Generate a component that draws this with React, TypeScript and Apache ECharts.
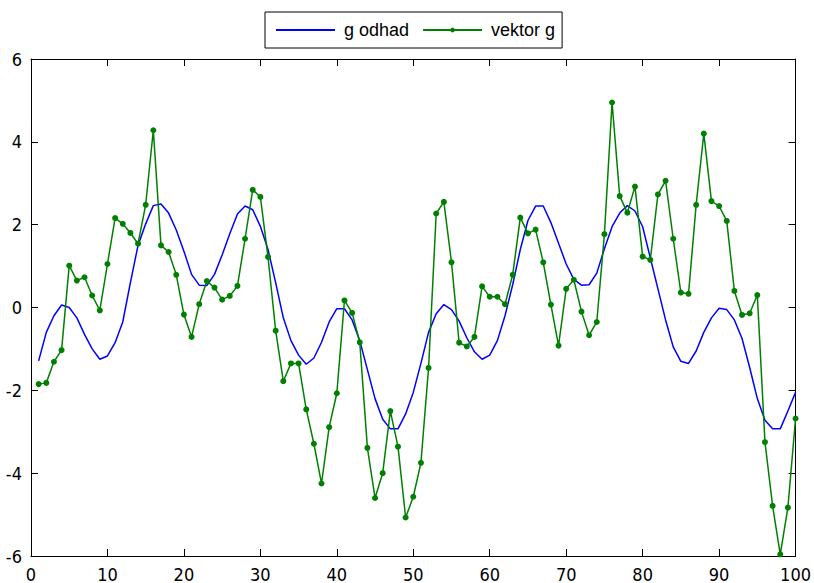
import React, { useEffect, useRef } from "react";
import * as echarts from "echarts";

const xValues: number[] = Array.from({ length: 100 }, (_, i) => i + 1);

const gOdhad: number[] = [
  -1.29, -0.6, -0.2, 0.06, 0.0, -0.25, -0.65, -1.0, -1.25, -1.17,
  -0.85, -0.35, 0.6, 1.5, 2.02, 2.46, 2.5, 2.28, 1.87, 1.36,
  0.8, 0.54, 0.53, 0.8, 1.27, 1.78, 2.26, 2.45, 2.36, 1.96,
  1.4, 0.6, -0.25, -0.8, -1.15, -1.37, -1.22, -0.84, -0.35, -0.03,
  -0.03, -0.3, -0.8, -1.5, -2.2, -2.7, -2.93, -2.93, -2.57, -2.05,
  -1.35, -0.6, -0.15, 0.07, -0.05, -0.33, -0.73, -1.07, -1.25, -1.15,
  -0.8, -0.2, 0.55, 1.4, 2.1, 2.45, 2.45, 2.05, 1.55, 1.05,
  0.68, 0.54, 0.55, 0.83, 1.42, 1.95, 2.28, 2.46, 2.33, 1.95,
  1.2, 0.45, -0.3, -0.95, -1.3, -1.35, -1.05, -0.6, -0.25, -0.02,
  -0.05, -0.3, -0.75, -1.45, -2.2, -2.72, -2.93, -2.93, -2.5, -2.05,
];

const vektorG: number[] = [
  -1.85, -1.82, -1.31, -1.03, 1.01, 0.65, 0.73, 0.29, -0.07, 1.05,
  2.16, 2.02, 1.8, 1.54, 2.48, 4.28, 1.5, 1.34, 0.79, -0.17,
  -0.71, 0.08, 0.64, 0.48, 0.19, 0.28, 0.52, 1.66, 2.84, 2.67,
  1.22, -0.56, -1.78, -1.35, -1.35, -2.46, -3.29, -4.25, -2.89, -2.07,
  0.17, -0.13, -0.84, -3.39, -4.6, -4.0, -2.5, -3.36, -5.07, -4.57,
  -3.75, -1.46, 2.27, 2.55, 1.09, -0.85, -0.94, -0.71, 0.51, 0.26,
  0.26, 0.08, 0.79, 2.17, 1.79, 1.88, 1.09, 0.07, -0.92, 0.45,
  0.67, -0.1, -0.67, -0.35, 1.77, 4.95, 2.69, 2.29, 2.92, 1.23,
  1.15, 2.73, 3.06, 1.66, 0.36, 0.33, 2.48, 4.2, 2.57, 2.45,
  2.09, 0.4, -0.18, -0.14, 0.3, -3.25, -4.79, -5.96, -4.83, -2.68,
];

const seriesNames: string[] = ["g odhad", "vektor g"];

const FONT = "'Liberation Sans', Arial, sans-serif";
const TICK_FONT = "'Liberation Sans Narrow', 'DejaVu Sans Condensed', 'Liberation Sans', sans-serif";

export default function App() {
  const ref = useRef<HTMLDivElement>(null);

  useEffect(() => {
    if (!ref.current) return;
    const chart = echarts.init(ref.current, undefined, { renderer: "svg" });
    const axisCommon = {
      axisLine: { show: true, onZero: false, lineStyle: { color: "#000", width: 1 } },
      axisTick: { show: true, inside: true, length: 7, lineStyle: { color: "#000" } },
      splitLine: { show: false },
    };
    chart.setOption({
      animation: false,
      backgroundColor: "#ffffff",
      textStyle: { fontFamily: FONT },
      grid: { left: 31, right: 15, top: 59, bottom: 23, containLabel: false },
      legend: {
        show: true,
        left: 265,
        top: 12,
        orient: "horizontal",
        data: [
          { name: seriesNames[0], itemStyle: { color: "rgba(0,0,0,0)", borderWidth: 0 } },
          { name: seriesNames[1] },
        ],
        borderColor: "#000",
        borderWidth: 1,
        borderRadius: 0,
        padding: [8, 7, 8, 10],
        itemGap: 13,
        itemWidth: 59,
        itemHeight: 6,
        textStyle: { fontFamily: FONT, fontSize: 18, color: "#000", padding: [0, 0, 0, 4], lineHeight: 20 },
      },
      xAxis: [
        {
          type: "value",
          min: 0,
          max: 100,
          interval: 10,
          position: "bottom",
          ...axisCommon,
          axisLabel: { show: true, color: "#000", fontSize: 18, margin: 9, fontFamily: TICK_FONT },
        },
        {
          type: "value",
          min: 0,
          max: 100,
          interval: 10,
          position: "top",
          ...axisCommon,
          axisLabel: { show: false },
        },
      ],
      yAxis: [
        {
          type: "value",
          min: -6,
          max: 6,
          interval: 2,
          position: "left",
          ...axisCommon,
          axisLabel: { show: true, color: "#000", fontSize: 18, margin: 9, fontFamily: TICK_FONT },
        },
        {
          type: "value",
          min: -6,
          max: 6,
          interval: 2,
          position: "right",
          ...axisCommon,
          axisLabel: { show: false },
        },
      ],
      series: [
        {
          name: seriesNames[0],
          type: "line",
          xAxisIndex: 0,
          yAxisIndex: 0,
          data: xValues.map((x, i) => [x, gOdhad[i]]),
          symbol: "none",
          showSymbol: false,
          lineStyle: { color: "#0000ff", width: 1.5 },
          itemStyle: { color: "#0000ff" },
          clip: true,
        },
        {
          name: seriesNames[1],
          type: "line",
          xAxisIndex: 0,
          yAxisIndex: 0,
          data: xValues.map((x, i) => [x, vektorG[i]]),
          symbol: "circle",
          symbolSize: 6,
          showSymbol: true,
          lineStyle: { color: "#008000", width: 1.5 },
          itemStyle: { color: "#008000" },
          clip: false,
        },
      ],
    });
    return () => chart.dispose();
  }, []);

  return (
    <div
      ref={ref}
      style={{ position: "fixed", left: 0, top: 0, width: 814, height: 583, background: "#fff" }}
    />
  );
}
